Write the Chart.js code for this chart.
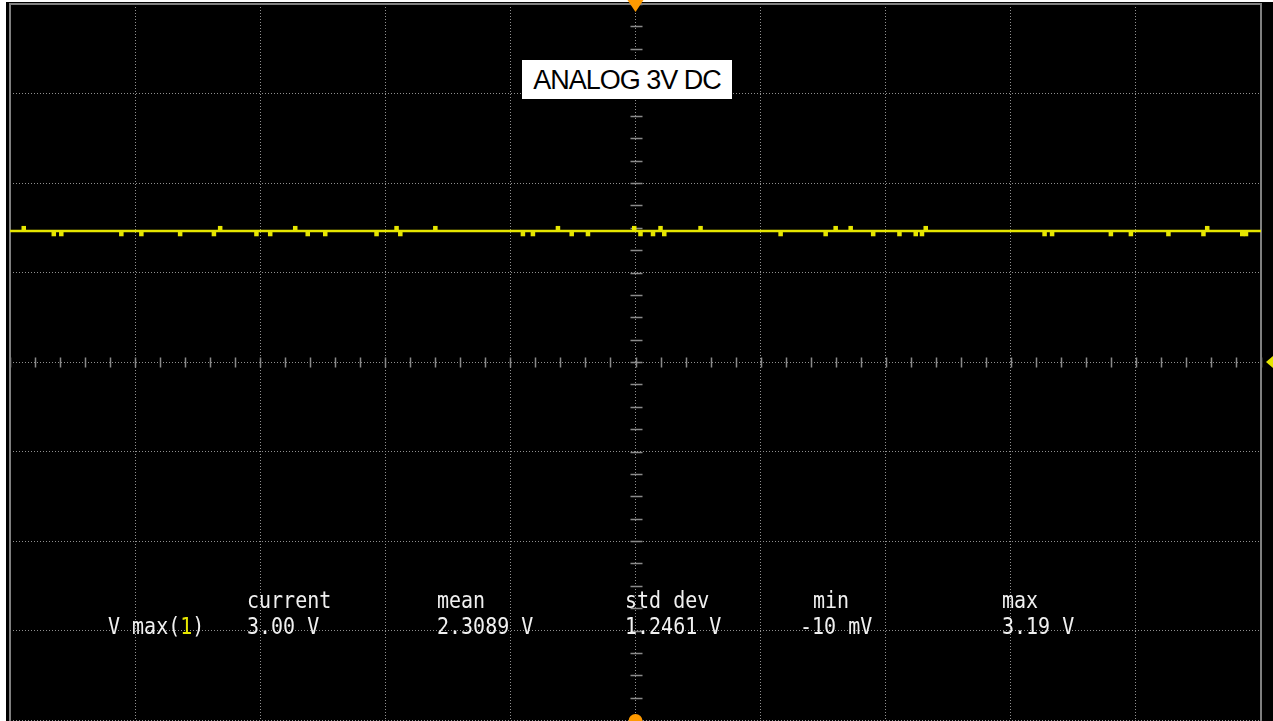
<!DOCTYPE html>
<html>
<head>
<meta charset="utf-8">
<script src="https://cdn.jsdelivr.net/npm/chart.js@4.4.1/dist/chart.umd.min.js"></script>
<style>
html, body { margin: 0; padding: 0; background: #fff; overflow: hidden; width: 1273px; height: 721px; }
#wrap { position: absolute; left: 6px; top: 0; width: 1267px; height: 724px; }
canvas { display: block; }
.meas { position: absolute; font-family: "DejaVu Sans Mono", monospace; font-size: 20px; line-height: 20px;
        color: #f0f0f0; white-space: pre; transform: scaleY(1.15); transform-origin: 0 0; }
.meas .ch { color: #e8e800; }
#badge { position: absolute; left: 522px; top: 60px; width: 210px; height: 39px; background: #fff; color: #000;
         font-family: "Liberation Sans", Arial, sans-serif; font-size: 27px; line-height: 40px; text-align: center;
         letter-spacing: -1px; white-space: pre; }
</style>
</head>
<body>
<div id="wrap"><canvas id="scope" width="1267" height="724"></canvas></div>
<div id="badge">ANALOG 3V DC</div>
<div id="readout"></div>
<script>
// horizontal position in divisions, vertical in volts (2 V/div)
const traceTimes = [0, 10];
const traceVolts = [2.93, 2.93];
const glitchTimes = [0.11, 0.35, 0.41, 0.89, 1.05, 1.36, 1.63, 1.68, 1.97, 2.08, 2.28, 2.38, 2.52, 2.93, 3.09, 3.12,
    3.40, 4.10, 4.18, 4.38, 4.49, 4.62, 4.99, 5.04, 5.14, 5.20, 5.23, 5.52, 6.16, 6.52, 6.60, 6.72, 6.90, 7.11,
    7.24, 7.29, 7.32, 8.27, 8.33, 8.80, 8.96, 9.26, 9.54, 9.57, 9.85, 9.88];
const glitchVolts = [2.99, 2.86, 2.86, 2.86, 2.86, 2.86, 2.86, 2.99, 2.86, 2.86, 2.99, 2.86, 2.86, 2.86, 2.99, 2.86,
    2.99, 2.86, 2.86, 2.99, 2.86, 2.86, 2.99, 2.86, 2.86, 2.99, 2.86, 2.99, 2.86, 2.86, 2.99, 2.99, 2.86, 2.86,
    2.86, 2.86, 2.99, 2.86, 2.86, 2.86, 2.86, 2.86, 2.86, 2.99, 2.86, 2.86];

const measLabels = ['current', 'mean', 'std dev', 'min', 'max'];
const measValues = ['3.00 V', '2.3089 V', '1.2461 V', '-10 mV', '3.19 V'];
const measCols = [247, 437, 625, 813, 1002];
const valueCols = [247, 437, 625, 800, 1002];

const traceColor = '#e6e600';

// measurement readout
let html = '<div class="meas" style="left:108px;top:614px">V max(<span class="ch">1</span>)</div>';
measLabels.forEach(function (lab, i) {
    html += '<div class="meas" style="left:' + measCols[i] + 'px;top:588px">' + lab + '</div>';
    html += '<div class="meas" style="left:' + valueCols[i] + 'px;top:614px">' + measValues[i] + '</div>';
});
document.getElementById('readout').innerHTML = html;

const scopeDecor = {
    id: 'scopeDecor',
    beforeDraw(chart) {
        const ctx = chart.ctx;
        ctx.save();
        ctx.fillStyle = '#000';
        ctx.fillRect(0, 2, chart.width, chart.height);
        ctx.restore();
    },
    beforeDatasetsDraw(chart) {
        const ctx = chart.ctx, a = chart.chartArea;
        const xs = chart.scales.x, ys = chart.scales.y;
        const cx = Math.round(xs.getPixelForValue(5)) + 0.5;
        const cy = Math.round(ys.getPixelForValue(0)) + 0.5;
        ctx.save();
        ctx.strokeStyle = '#8a8a8a';
        ctx.lineWidth = 1.5;
        ctx.beginPath();
        for (let t = 0; t <= 50; t++) {
            const x = Math.round(xs.getPixelForValue(t / 5)) + 0.5;
            ctx.moveTo(x, cy - 5); ctx.lineTo(x, cy + 5);
        }
        for (let v = -16; v <= 16; v++) {
            const y = Math.round(ys.getPixelForValue(v / 2)) + 0.5;
            ctx.moveTo(cx - 6, y); ctx.lineTo(cx + 6, y);
        }
        ctx.stroke();
        // frame
        ctx.strokeStyle = '#808080';
        ctx.lineWidth = 2;
        ctx.beginPath();
        ctx.moveTo(a.left, a.bottom + 2);
        ctx.lineTo(a.left, a.top);
        ctx.lineTo(a.right, a.top);
        ctx.lineTo(a.right, a.bottom + 2);
        ctx.stroke();
        ctx.restore();
    },
    afterDraw(chart) {
        const ctx = chart.ctx;
        const xs = chart.scales.x, ys = chart.scales.y;
        const cx = xs.getPixelForValue(5);
        const gy = ys.getPixelForValue(0);
        ctx.save();
        ctx.fillStyle = '#ff9a00';
        ctx.beginPath();
        ctx.moveTo(cx - 8, 0); ctx.lineTo(cx + 8, 0); ctx.lineTo(cx, 12);
        ctx.closePath();
        ctx.fill();
        ctx.beginPath();
        ctx.arc(cx, 721, 7, Math.PI, 2 * Math.PI);
        ctx.fill();
        ctx.fillStyle = traceColor;
        ctx.beginPath();
        ctx.moveTo(chart.chartArea.right + 5, gy);
        ctx.lineTo(chart.width, gy - 6);
        ctx.lineTo(chart.width, gy + 6);
        ctx.closePath();
        ctx.fill();
        ctx.restore();
    }
};

new Chart(document.getElementById('scope'), {
    type: 'line',
    data: {
        datasets: [{
            data: traceTimes.map((t, i) => ({x: t, y: traceVolts[i]})),
            borderColor: traceColor,
            borderWidth: 2.5,
            pointRadius: 0
        }, {
            data: glitchTimes.map((t, i) => ({x: t, y: glitchVolts[i]})),
            showLine: false,
            pointStyle: 'rect',
            pointRadius: 3.2,
            backgroundColor: traceColor,
            borderWidth: 0
        }]
    },
    options: {
        responsive: false,
        animation: false,
        maintainAspectRatio: false,
        layout: {padding: {left: 1, top: 3, right: 12, bottom: 1}},
        plugins: {legend: false, tooltip: {enabled: false}},
        scales: {
            x: {
                type: 'linear', min: 0, max: 10,
                ticks: {display: false, stepSize: 1},
                grid: {color: '#909090', drawTicks: false},
                border: {display: false, dash: [1, 2]},
                afterFit(scale) { scale.height = 0; }
            },
            y: {
                min: -8, max: 8,
                ticks: {display: false, stepSize: 2},
                grid: {color: '#909090', drawTicks: false},
                border: {display: false, dash: [1, 2]},
                afterFit(scale) { scale.width = 0; }
            }
        }
    },
    plugins: [scopeDecor]
});
</script>
</body>
</html>
